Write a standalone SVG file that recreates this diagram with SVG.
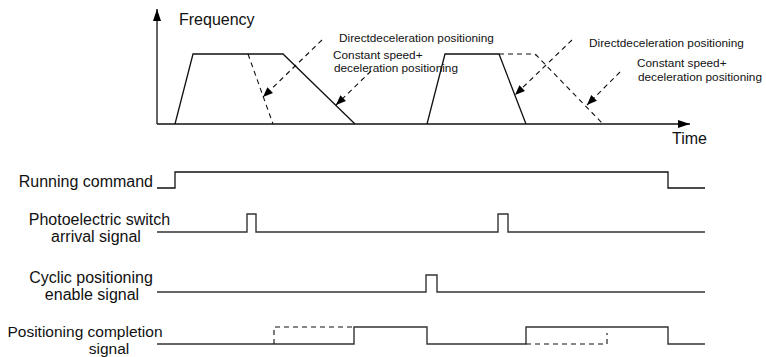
<svg xmlns="http://www.w3.org/2000/svg" width="766" height="357" viewBox="0 0 766 357">
<defs>
<marker id="ah" viewBox="0 0 10 10" refX="10" refY="5" markerWidth="10" markerHeight="10" markerUnits="userSpaceOnUse" orient="auto"><path d="M0,1 L10,5 L0,9 Z" fill="#000"/></marker>
<marker id="axh" viewBox="0 0 12 10" refX="12" refY="5" markerWidth="12" markerHeight="10" markerUnits="userSpaceOnUse" orient="auto"><path d="M0,1 L12,5 L0,9 Z" fill="#000"/></marker>
</defs>
<style>
.t{font-family:"Liberation Sans",Arial,sans-serif;fill:#111}
.lbl{font-size:16px}
.lbl2{font-size:15.5px}
.sm{font-size:11.8px}
.s{fill:none;stroke:#111;stroke-width:1.3}
.sig{fill:none;stroke:#333;stroke-width:1.4}
.d{fill:none;stroke:#111;stroke-width:1.1;stroke-dasharray:5,4}
</style>
<g id="axes">
<line class="s" x1="157" y1="124" x2="157" y2="9" marker-end="url(#axh)"/>
<line class="s" x1="157" y1="124" x2="690" y2="124" marker-end="url(#axh)"/>
<text class="t lbl" x="179" y="25">Frequency</text>
<text class="t lbl" x="672" y="144">Time</text>
</g>
<g id="profile1">
<polyline class="s" points="175,124 193,54 283,54 355,124"/>
<line class="d" x1="248" y1="54" x2="273" y2="124"/>
</g>
<g id="profile2">
<polyline class="s" points="427,124 445,54 499,54 526,124"/>
<path class="d" d="M499,54 L533,54 Q536,54 538,57 L603,124"/>
</g>
<g id="annotations">
<text class="t sm" x="339" y="42">Directdeceleration positioning</text>
<text class="t sm" x="333" y="59">Constant speed+</text>
<text class="t sm" x="334" y="72">deceleration positioning</text>
<text class="t sm" x="589" y="47">Directdeceleration positioning</text>
<text class="t sm" x="637" y="67">Constant speed+</text>
<text class="t sm" x="638" y="81">deceleration positioning</text>
</g>
<g id="connectors">
<line class="d" x1="322" y1="40" x2="263" y2="97" marker-end="url(#ah)"/>
<line class="d" x1="371" y1="71" x2="336" y2="105" marker-end="url(#ah)"/>
<line class="d" x1="572" y1="40" x2="515" y2="95" marker-end="url(#ah)"/>
<line class="d" x1="620" y1="72" x2="587" y2="105" marker-end="url(#ah)"/>
</g>
<g id="running-command">
<text class="t lbl" x="153" y="187" text-anchor="end">Running command</text>
<polyline class="s" points="157,188 175,188 175,172 668,172 668,188 705,188"/>
</g>
<g id="photoelectric">
<text class="t lbl" x="99.5" y="225" text-anchor="middle">Photoelectric switch</text>
<text class="t lbl" x="96" y="242" text-anchor="middle">arrival signal</text>
<polyline class="sig" points="157,232 247,232 247,214 256,214 256,232 498,232 498,214 508,214 508,232 705,232"/>
</g>
<g id="cyclic">
<text class="t lbl" x="91" y="283" text-anchor="middle">Cyclic positioning</text>
<text class="t lbl" x="92" y="300" text-anchor="middle">enable signal</text>
<polyline class="sig" points="157,292 426,292 426,275 437,275 437,292 705,292"/>
</g>
<g id="completion">
<text class="t lbl2" x="85" y="337" text-anchor="middle">Positioning completion</text>
<text class="t lbl2" x="109" y="353.5" text-anchor="middle">signal</text>
<polyline class="sig" points="157,344 354,344 354,327 427,327 427,344 526,344 526,327 668,327 668,344 705,344"/>
<polyline class="d" points="274,344 274,327 354,327"/>
<polyline class="d" points="526,344 607,344 607,333"/>
</g>
</svg>
